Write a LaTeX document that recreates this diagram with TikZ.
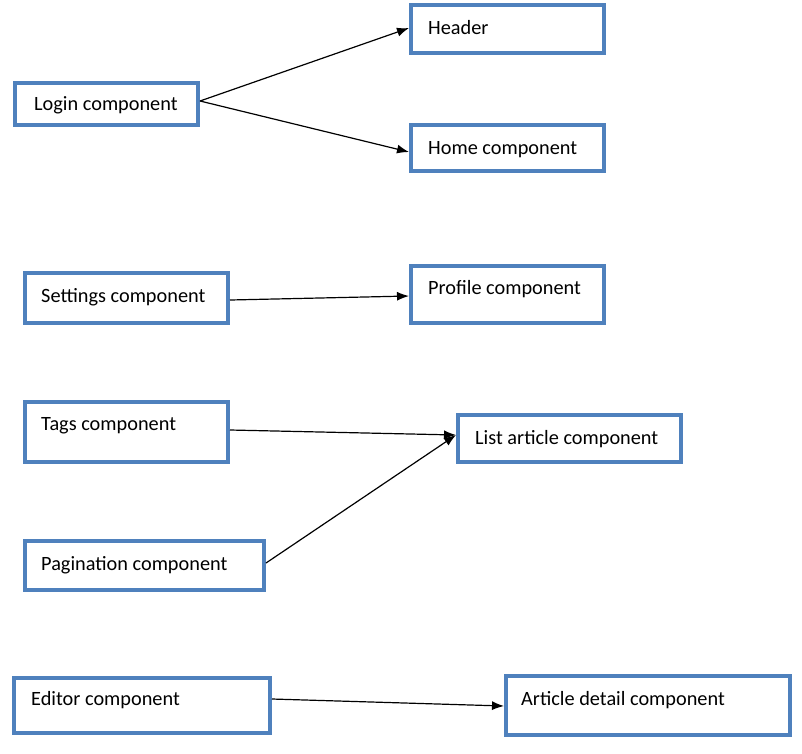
\documentclass[tikz,border=0pt]{standalone}
\usepackage{fontspec}
\setmainfont{Carlito}
\usetikzlibrary{arrows.meta}
\definecolor{boxblue}{RGB}{79,129,189}
\begin{document}
\begin{tikzpicture}[x=1pt,y=-1pt,
  box/.style={draw=boxblue, line width=4pt, fill=white, inner sep=0pt, rectangle},
  lbl/.style={font=\fontsize{20.3}{24}\selectfont, inner sep=0pt, anchor=base west},
  conn/.style={draw=black, line width=1.2pt, -{Latex[length=12pt,width=9pt]}}]
\useasboundingbox (0,0) rectangle (802,753);
\node[box, minimum width=183pt, minimum height=42pt] (login) at (106.5,104) {};
\node[box, minimum width=193pt, minimum height=48pt] (header) at (507.5,29) {};
\node[box, minimum width=193pt, minimum height=46pt] (home) at (507.5,148) {};
\node[box, minimum width=203pt, minimum height=50pt] (settings) at (126.5,298) {};
\node[box, minimum width=193pt, minimum height=57pt] (profile) at (507.5,294.5) {};
\node[box, minimum width=203pt, minimum height=60pt] (tags) at (126.5,432) {};
\node[box, minimum width=223pt, minimum height=47pt] (list) at (569.5,438.5) {};
\node[box, minimum width=239pt, minimum height=49pt] (pagination) at (144.5,565.5) {};
\node[box, minimum width=256pt, minimum height=55pt] (editor) at (142,705.5) {};
\node[box, minimum width=284pt, minimum height=59pt] (article) at (648,705.5) {};
\node[lbl] (tlogin) at (34,110) {Login component};
\node[lbl] (theader) at (428,34) {Header};
\node[lbl] (thome) at (428,154) {Home component};
\node[lbl] (tsettings) at (41,302) {Settings component};
\node[lbl] (tprofile) at (428,294) {Profile component};
\node[lbl] (ttags) at (41,430) {Tags component};
\node[lbl] (tlist) at (475,444) {List article component};
\node[lbl] (tpagination) at (41,570) {Pagination component};
\node[lbl] (teditor) at (31,705) {Editor component};
\node[lbl] (tarticle) at (521,705) {Article detail component};
\draw[conn] ([yshift=3pt]login.east) -- ([yshift=1pt]header.west);
\draw[conn] ([yshift=3pt]login.east) -- ([yshift=-4pt]home.west);
\draw[conn] ([yshift=-2pt]settings.east) -- ([yshift=-1.5pt]profile.west);
\draw[conn] ([yshift=2pt]tags.east) -- ([yshift=3.5pt]list.west);
\draw[conn] ([yshift=2.5pt]pagination.east) -- ([yshift=3.5pt]list.west);
\draw[conn] ([yshift=6.5pt]editor.east) -- ([yshift=-0.5pt]article.west);
\end{tikzpicture}
\end{document}
